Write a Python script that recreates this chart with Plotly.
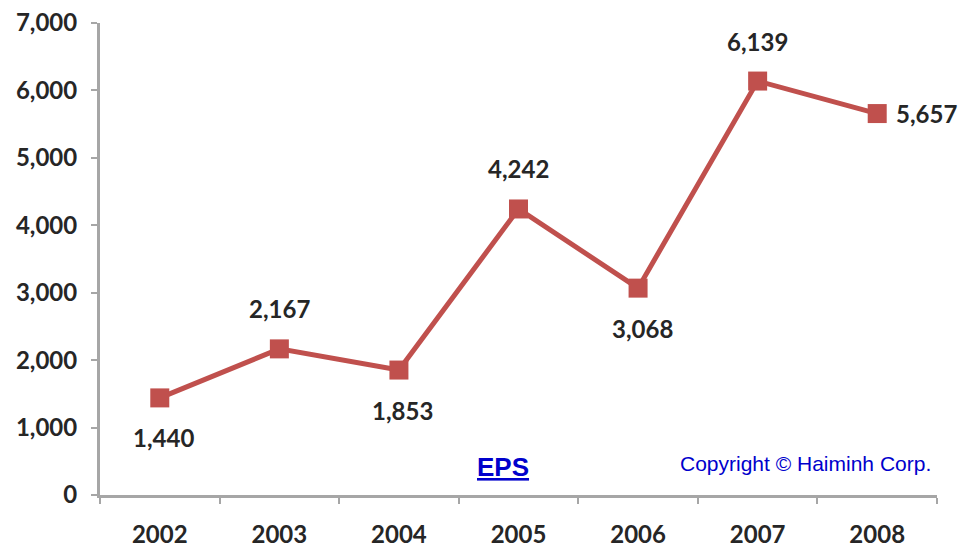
import plotly.graph_objects as go

years = ["2002", "2003", "2004", "2005", "2006", "2007", "2008"]
eps = [1440, 2167, 1853, 4242, 3068, 6139, 5657]
label_pos = ["below", "above", "below", "above", "below", "above", "right"]
y_ticks = [0, 1000, 2000, 3000, 4000, 5000, 6000, 7000]

RED = "#c0504d"
AXIS = "#a6a6a6"
TXT = "#262626"
FONT = "Lato"

fig = go.Figure()
fig.add_trace(go.Scatter(
    x=years, y=eps, mode="lines+markers",
    line=dict(color=RED, width=5),
    marker=dict(symbol="square", size=19, color=RED),
    hoverinfo="skip", showlegend=False,
))

for i, (v, pos) in enumerate(zip(eps, label_pos)):
    if pos == "above":
        xs, ys, xa = 0, 40, "center"
    elif pos == "below":
        xs, ys, xa = 4, -40, "center"
    else:
        xs, ys, xa = 17, 0, "left"
    fig.add_annotation(
        x=i, y=v, text=f"{v:,}", showarrow=False,
        xshift=xs, yshift=ys, xanchor=xa, yanchor="middle",
        font=dict(family=FONT, size=24, color=TXT, weight="bold"),
    )

fig.add_annotation(
    xref="paper", yref="paper", x=(503 - 100) / 837, y=(495 - 467) / 472,
    text="<b><u>EPS</u></b>", showarrow=False, xanchor="center", yanchor="middle",
    font=dict(family="Liberation Sans", size=26, color="#0000cc"),
)
fig.add_annotation(
    xref="paper", yref="paper", x=(933 - 100) / 837, y=(495 - 463) / 472,
    text="Copyright © Haiminh Corp.", showarrow=False, xanchor="right", yanchor="middle",
    font=dict(family="Liberation Sans", size=21, color="#0000cc"),
)

fig.update_layout(
    width=962, height=550,
    margin=dict(l=100, r=25, t=23, b=55),
    plot_bgcolor="white", paper_bgcolor="white",
    xaxis=dict(
        type="category", range=[-0.5, 6.5], tickson="boundaries",
        showline=True, linecolor=AXIS, linewidth=3,
        ticks="outside", tickcolor=AXIS, tickwidth=2, ticklen=6,
        showgrid=False, zeroline=False, ticklabelstandoff=16, automargin=False,
        tickfont=dict(family=FONT, size=24, color=TXT, weight="bold"),
    ),
    yaxis=dict(
        range=[0, 7000], tickvals=y_ticks, tickformat=",",
        showline=True, linecolor=AXIS, linewidth=3,
        ticks="outside", tickcolor=AXIS, tickwidth=2, ticklen=6,
        showgrid=False, zeroline=False, ticklabelstandoff=9, automargin=False,
        tickfont=dict(family=FONT, size=24, color=TXT, weight="bold"),
    ),
)

fig.write_html("out.html")
